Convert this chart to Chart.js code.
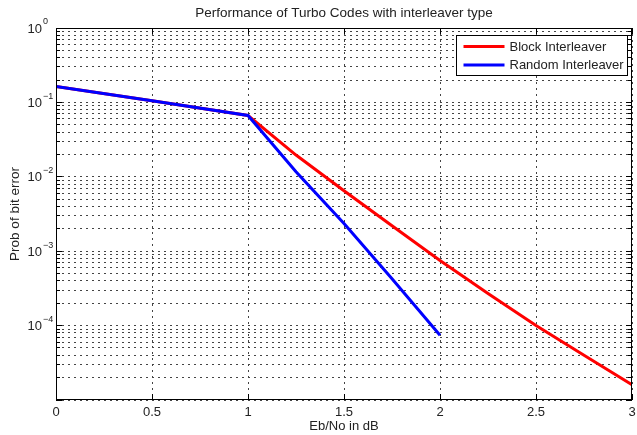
<!DOCTYPE html>
<html>
<head>
<meta charset="utf-8">
<script src="https://cdn.jsdelivr.net/npm/chart.js@4.4.1/dist/chart.umd.min.js"></script>
<style>
  html, body { margin: 0; padding: 0; background: #fff; }
</style>
</head>
<body>
<canvas id="berChart" width="637" height="435"></canvas>
<script>
// values
const ebNo = [0, 0.5, 1, 1.25, 1.5, 1.75, 2, 2.25, 2.5, 2.75, 3];
const blockBer = [0.164, 0.105, 0.0667, 0.0196, 0.0065, 0.0022, 0.00075, 0.00027, 0.0001, 0.00004, 0.000016];

const randomEbNo = [0, 0.5, 1, 1.25, 1.5, 1.75, 2];
const randomBer = [0.164, 0.105, 0.0667, 0.0117, 0.00235, 0.000425, 0.000074];

const xTicks = [0, 0.5, 1, 1.5, 2, 2.5, 3];
const yDecades = [-5, -4, -3, -2, -1, 0];
const yLabelDecades = [-4, -3, -2, -1, 0];

const titleText = "Performance of Turbo Codes with interleaver type";
const xTitle = "Eb/No in dB";
const yTitle = "Prob of bit error";

const FONT = '"Liberation Sans", Arial, sans-serif';
Chart.defaults.font.family = FONT;
Chart.defaults.color = "#222";

// all 1..9 x 10^e values for the log grid
const yGridValues = [];
yDecades.forEach(e => {
    if (e === 0) {
        yGridValues.push(1);
        return;
    }
    for (let k = 1; k <= 9; k++) yGridValues.push(k * Math.pow(10, e));
});

function isDecade(v) {
    const l = Math.log10(v);
    return Math.abs(l - Math.round(l)) < 1e-9;
}

const matlabFrame = {
    id: "matlabFrame",
    afterDatasetsDraw(chart) {
        const { ctx, chartArea: a, scales: { x, y } } = chart;
        ctx.save();

        // inside ticks
        ctx.strokeStyle = "#000";
        ctx.lineWidth = 1;
        ctx.beginPath();
        y.ticks.forEach(t => {
            const py = Math.round(y.getPixelForValue(t.value) - 0.5) + 0.5;
            const len = isDecade(t.value) ? 6 : 4;
            ctx.moveTo(a.left, py); ctx.lineTo(a.left + len, py);
            ctx.moveTo(a.right, py); ctx.lineTo(a.right - len, py);
        });
        x.ticks.forEach(t => {
            const px = Math.round(x.getPixelForValue(t.value) - 0.5) + 0.5;
            ctx.moveTo(px, a.bottom); ctx.lineTo(px, a.bottom - 6);
            ctx.moveTo(px, a.top); ctx.lineTo(px, a.top + 6);
        });
        ctx.stroke();

        // box
        ctx.strokeRect(Math.round(a.left) + 0.5, Math.round(a.top) + 0.5,
            Math.round(a.right - a.left) - 1, Math.round(a.bottom - a.top) - 1);

        // y labels 10^e
        ctx.fillStyle = "#222";
        ctx.textBaseline = "middle";
        yLabelDecades.forEach(e => {
            const py = y.getPixelForValue(Math.pow(10, e));
            ctx.font = "13px " + FONT;
            ctx.textAlign = "right";
            ctx.fillText("10", a.left - 14, py + 1);
            ctx.font = "9px " + FONT;
            ctx.textAlign = "left";
            ctx.fillText(e === 0 ? "0" : "\u2212" + Math.abs(e), a.left - 13, py - 6);
        });

        // title
        ctx.font = "13.5px " + FONT;
        ctx.textAlign = "center";
        ctx.fillText(titleText, (a.left + a.right) / 2, 13);

        // legend
        const bx = Math.round(a.right) - 4.5, by = Math.round(a.top) + 7.5;
        const bw = 171, bh = 40;
        ctx.fillStyle = "#fff";
        ctx.fillRect(bx - bw, by, bw, bh);
        ctx.strokeStyle = "#000";
        ctx.lineWidth = 1;
        ctx.strokeRect(bx - bw, by, bw, bh);
        ctx.font = "13px " + FONT;
        ctx.textAlign = "left";
        chart.data.datasets.forEach((ds, i) => {
            const ry = by + 11 + i * 18.5;
            ctx.strokeStyle = ds.borderColor;
            ctx.lineWidth = 3;
            ctx.beginPath();
            ctx.moveTo(bx - bw + 7, ry);
            ctx.lineTo(bx - bw + 48, ry);
            ctx.stroke();
            ctx.fillStyle = "#222";
            ctx.fillText(ds.label, bx - bw + 53, ry + 0.5);
        });

        ctx.restore();
    }
};

new Chart(document.getElementById("berChart"), {
    type: "line",
    data: {
        datasets: [{
            label: "Block Interleaver",
            data: ebNo.map((v, i) => ({ x: v, y: blockBer[i] })),
            borderColor: "#ff0000",
            borderWidth: 3,
            pointRadius: 0,
            tension: 0,
            order: 1
        }, {
            label: "Random Interleaver",
            data: randomEbNo.map((v, i) => ({ x: v, y: randomBer[i] })),
            borderColor: "#0000ff",
            borderWidth: 3,
            pointRadius: 0,
            tension: 0,
            order: 0
        }]
    },
    options: {
        responsive: false,
        animation: false,
        layout: {
            padding: { top: 28, left: 0, right: 5, bottom: 0 }
        },
        plugins: {
            legend: { display: false },
            title: { display: false },
            tooltip: { enabled: false }
        },
        scales: {
            x: {
                type: "linear",
                min: 0,
                max: 3,
                afterBuildTicks: scale => {
                    scale.ticks = xTicks.map(v => ({ value: v }));
                },
                afterFit: scale => {
                    scale.height = 35;
                    scale.paddingLeft = 0;
                    scale.paddingRight = 0;
                },
                ticks: {
                    autoSkip: false,
                    maxRotation: 0,
                    padding: 5,
                    font: { size: 13 },
                    color: "#222",
                    callback: value => String(value)
                },
                grid: {
                    color: "#444",
                    lineWidth: 1,
                    drawTicks: false
                },
                border: { display: false, dash: [2, 4] },
                title: {
                    display: true,
                    text: xTitle,
                    font: { size: 13 },
                    color: "#222",
                    padding: { top: 0, bottom: 1 }
                }
            },
            y: {
                type: "logarithmic",
                min: 1e-5,
                max: 1,
                afterBuildTicks: scale => {
                    scale.ticks = yGridValues.map(v => ({ value: v }));
                },
                afterFit: scale => { scale.width = 56; },
                ticks: {
                    autoSkip: false,
                    callback: () => ""
                },
                grid: {
                    color: "#444",
                    lineWidth: 1,
                    drawTicks: false
                },
                border: { display: false, dash: [2, 4] },
                title: {
                    display: true,
                    text: yTitle,
                    font: { size: 13.5 },
                    color: "#222",
                    padding: { top: 7, bottom: 0 }
                }
            }
        }
    },
    plugins: [matlabFrame]
});
</script>
</body>
</html>
